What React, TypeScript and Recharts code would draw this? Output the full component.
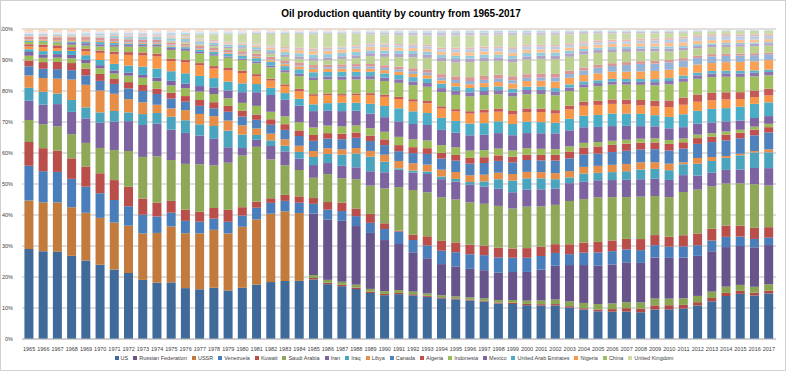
import React from 'react';
import { BarChart, Bar, XAxis, YAxis, CartesianGrid } from 'recharts';

const YEARS = [
  1965, 1966, 1967, 1968, 1969, 1970, 1971, 1972, 1973, 1974,
  1975, 1976, 1977, 1978, 1979, 1980, 1981, 1982, 1983, 1984,
  1985, 1986, 1987, 1988, 1989, 1990, 1991, 1992, 1993, 1994,
  1995, 1996, 1997, 1998, 1999, 2000, 2001, 2002, 2003, 2004,
  2005, 2006, 2007, 2008, 2009, 2010, 2011, 2012, 2013, 2014,
  2015, 2016, 2017,
];

// production, thousand barrels per day (rows: 1965-74, 75-84, 85-94, 95-04, 05-14, 15-17)
const US = [
  9014, 9579, 10219, 10600, 10828, 11297, 11156, 11185, 10946, 10461,
  10008, 9736, 9863, 10274, 10136, 10170, 10181, 10199, 10247, 10509,
  10580, 10231, 9944, 9765, 9159, 8914, 9076, 8868, 8583, 8389,
  8322, 8295, 8269, 8011, 7731, 7733, 7669, 7626, 7400, 7228,
  6895, 6841, 6847, 6734, 7270, 7555, 7868, 8894, 10071, 11779,
  12757, 12354, 13057,
];
const AZERBAIJAN = [
  0, 0, 0, 0, 0, 0, 0, 0, 0, 0,
  0, 0, 0, 0, 0, 0, 0, 0, 0, 0,
  265, 260, 268, 272, 273, 259, 243, 228, 211, 193,
  184, 182, 180, 229, 278, 282, 301, 311, 313, 315,
  452, 654, 869, 915, 1033, 1037, 934, 877, 877, 849,
  841, 826, 795,
];
const KAZAKHSTAN = [
  0, 0, 0, 0, 0, 0, 0, 0, 0, 0,
  0, 0, 0, 0, 0, 0, 0, 0, 0, 0,
  517, 540, 561, 570, 550, 571, 571, 529, 475, 430,
  434, 474, 536, 537, 631, 744, 836, 1018, 1111, 1297,
  1356, 1426, 1484, 1554, 1688, 1676, 1684, 1664, 1720, 1701,
  1695, 1655, 1835,
];
const RUSSIA = [
  0, 0, 0, 0, 0, 0, 0, 0, 0, 0,
  0, 0, 0, 0, 0, 0, 0, 0, 0, 0,
  10905, 11266, 11484, 11445, 11145, 10405, 9326, 7990, 7173, 6419,
  6288, 6114, 6227, 6169, 6178, 6583, 7056, 7698, 8544, 9287,
  9552, 9769, 9978, 9950, 10139, 10366, 10510, 10643, 10777, 10838,
  10981, 11227, 11257,
];
const USSR = [
  4860, 5316, 5762, 6190, 6581, 7127, 7556, 8010, 8600, 9216,
  9901, 10502, 11086, 11612, 11908, 12117, 12195, 12228, 12298, 12254,
  0, 0, 0, 0, 0, 0, 0, 0, 0, 0,
  0, 0, 0, 0, 0, 0, 0, 0, 0, 0,
  0, 0, 0, 0, 0, 0, 0, 0, 0, 0,
  0, 0, 0,
];
const VENEZUELA = [
  3503, 3401, 3560, 3620, 3602, 3754, 3615, 3299, 3455, 3060,
  2421, 2371, 2313, 2242, 2425, 2228, 2166, 1950, 1852, 1871,
  1744, 1829, 1839, 1940, 2009, 2244, 2501, 2499, 2592, 2752,
  2959, 3137, 3321, 3480, 3126, 3239, 3142, 2895, 2554, 3051,
  3307, 3336, 3230, 3222, 3033, 2838, 2880, 2804, 2859, 2804,
  2662, 2373, 2110,
];
const KUWAIT = [
  2371, 2505, 2500, 2613, 2773, 3036, 3197, 3283, 3020, 2546,
  2084, 2145, 1969, 2131, 2500, 1664, 1129, 824, 1064, 1163,
  1023, 1419, 1585, 1492, 1783, 1175, 185, 1058, 1881, 2025,
  2057, 2062, 2137, 2190, 2025, 2206, 2148, 1995, 2329, 2475,
  2618, 2690, 2636, 2782, 2498, 2536, 2880, 3126, 3129, 3101,
  3068, 3145, 3025,
];
const SAUDI = [
  2219, 2615, 2825, 3081, 3262, 3851, 4821, 6070, 7693, 8618,
  7216, 8762, 9419, 8554, 9841, 10270, 10256, 6961, 5225, 4757,
  3601, 5208, 4599, 5720, 5635, 7105, 8820, 9098, 8962, 8991,
  9014, 9101, 9221, 9409, 8853, 9491, 9209, 8928, 10164, 10638,
  11114, 10853, 10449, 10664, 9663, 10075, 11144, 11635, 11393, 11505,
  11986, 12406, 11951,
];
const IRAN = [
  1908, 2132, 2603, 2840, 3375, 3848, 4572, 5060, 5907, 6060,
  5387, 5924, 5707, 5302, 3218, 1479, 1321, 2397, 2455, 2051,
  2259, 2063, 2347, 2316, 2864, 3270, 3500, 3523, 3712, 3730,
  3744, 3759, 3776, 3855, 3603, 3855, 3892, 3709, 4183, 4248,
  4234, 4286, 4322, 4396, 4249, 4356, 4358, 3751, 3611, 3725,
  3897, 4602, 4982,
];
const IRAQ = [
  1323, 1398, 1237, 1522, 1523, 1566, 1711, 1478, 2023, 1974,
  2271, 2425, 2216, 2573, 3489, 2658, 897, 1012, 1005, 1209,
  1433, 1690, 2079, 2685, 2897, 2149, 305, 425, 512, 553,
  560, 603, 1166, 2150, 2610, 2614, 2523, 2116, 1344, 2030,
  1833, 1999, 2143, 2428, 2452, 2490, 2801, 3116, 3141, 3285,
  4031, 4423, 4520,
];
const LIBYA = [
  1220, 1501, 1742, 2602, 3109, 3318, 2761, 2239, 2175, 1521,
  1480, 1933, 2063, 1983, 2092, 1831, 1217, 1197, 1130, 1111,
  1059, 1069, 1003, 1071, 1154, 1424, 1483, 1476, 1402, 1406,
  1439, 1452, 1487, 1480, 1425, 1475, 1427, 1375, 1485, 1623,
  1745, 1815, 1820, 1820, 1652, 1658, 516, 1539, 1048, 518,
  437, 412, 865,
];
const CANADA = [
  920, 1012, 1106, 1194, 1306, 1473, 1582, 1833, 2114, 1993,
  1735, 1617, 1608, 1564, 1838, 1764, 1610, 1590, 1659, 1775,
  1812, 1807, 1910, 2001, 1968, 1965, 1977, 2066, 2183, 2276,
  2402, 2480, 2588, 2672, 2604, 2721, 2677, 2858, 3004, 3085,
  3041, 3208, 3290, 3207, 3202, 3332, 3515, 3740, 4000, 4271,
  4388, 4460, 4831,
];
const ALGERIA = [
  577, 726, 842, 904, 946, 1052, 785, 1062, 1097, 1009,
  1020, 1075, 1152, 1231, 1224, 1139, 1003, 991, 1003, 1012,
  1037, 1011, 1048, 1040, 1095, 1175, 1230, 1214, 1162, 1180,
  1202, 1242, 1277, 1246, 1202, 1242, 1262, 1309, 1611, 1677,
  1797, 1805, 1797, 1740, 1676, 1689, 1642, 1537, 1485, 1589,
  1558, 1577, 1540,
];
const INDONESIA = [
  486, 470, 505, 601, 742, 853, 892, 1081, 1338, 1375,
  1306, 1503, 1686, 1635, 1590, 1577, 1605, 1339, 1385, 1466,
  1328, 1410, 1368, 1366, 1451, 1539, 1669, 1579, 1588, 1589,
  1578, 1580, 1557, 1520, 1408, 1456, 1389, 1289, 1176, 1130,
  1096, 1018, 972, 1006, 994, 1003, 952, 918, 882, 852,
  838, 880, 949,
];
const MEXICO = [
  362, 370, 411, 439, 461, 487, 486, 506, 525, 653,
  806, 897, 1085, 1330, 1630, 2129, 2553, 3001, 2930, 3015,
  2912, 2754, 2879, 2880, 2914, 2977, 3126, 3120, 3132, 3142,
  3065, 3277, 3410, 3499, 3343, 3456, 3560, 3585, 3789, 3824,
  3760, 3689, 3479, 3165, 2978, 2959, 2940, 2911, 2875, 2785,
  2588, 2456, 2224,
];
const UAE = [
  282, 360, 382, 497, 627, 779, 1059, 1202, 1532, 1679,
  1696, 1953, 2014, 1868, 1866, 1745, 1529, 1286, 1177, 1229,
  1208, 1432, 1566, 1565, 1959, 2283, 2639, 2574, 2451, 2474,
  2480, 2517, 2562, 2653, 2511, 2620, 2551, 2390, 2695, 2847,
  2983, 3149, 3053, 3088, 2750, 2895, 3320, 3400, 3626, 3603,
  3898, 4038, 3935,
];
const NIGERIA = [
  274, 422, 322, 145, 541, 1084, 1531, 1816, 2056, 2260,
  1788, 2070, 2098, 1914, 2316, 2059, 1439, 1287, 1241, 1388,
  1499, 1467, 1342, 1450, 1716, 1870, 1890, 1975, 1980, 1931,
  1998, 2149, 2316, 2167, 2066, 2159, 2274, 2103, 2238, 2431,
  2499, 2420, 2305, 2113, 2211, 2523, 2460, 2412, 2279, 2389,
  2201, 1898, 1988,
];
const QATAR = [
  233, 291, 324, 341, 357, 363, 431, 482, 570, 518,
  438, 497, 445, 487, 508, 472, 415, 332, 295, 414,
  301, 337, 298, 359, 398, 434, 434, 495, 462, 450,
  461, 510, 676, 739, 755, 853, 835, 790, 879, 993,
  1028, 1110, 1197, 1378, 1345, 1676, 1834, 1931, 1998, 1960,
  1939, 1899, 1916,
];
const CHINA = [
  227, 291, 278, 304, 434, 616, 791, 909, 1090, 1315,
  1541, 1739, 1874, 2082, 2122, 2122, 2024, 2045, 2123, 2296,
  2505, 2621, 2690, 2739, 2757, 2774, 2835, 2845, 2890, 2939,
  2990, 3170, 3211, 3212, 3213, 3257, 3310, 3346, 3401, 3481,
  3637, 3705, 3737, 3814, 3805, 4077, 4074, 4155, 4216, 4246,
  4309, 3999, 3846,
];
const OMAN = [
  0, 0, 57, 241, 327, 332, 293, 282, 293, 290,
  342, 366, 339, 314, 295, 282, 328, 335, 388, 416,
  498, 553, 593, 620, 638, 685, 708, 743, 780, 817,
  851, 885, 906, 905, 911, 959, 961, 904, 824, 786,
  778, 742, 710, 757, 813, 865, 885, 918, 942, 943,
  981, 1004, 971,
];
const EGYPT = [
  126, 121, 124, 193, 238, 329, 301, 223, 170, 155,
  245, 337, 425, 489, 529, 595, 635, 675, 720, 829,
  893, 838, 923, 869, 870, 873, 886, 896, 913, 896,
  920, 922, 873, 857, 827, 781, 758, 751, 749, 721,
  696, 697, 710, 715, 730, 725, 714, 715, 710, 714,
  726, 691, 660,
];
const BRAZIL = [
  96, 117, 147, 163, 174, 167, 175, 171, 174, 182,
  177, 172, 166, 167, 171, 188, 220, 269, 339, 475,
  563, 594, 590, 574, 609, 650, 644, 645, 666, 693,
  718, 807, 870, 1003, 1133, 1268, 1337, 1499, 1555, 1542,
  1716, 1809, 1833, 1899, 2029, 2137, 2179, 2145, 2110, 2341,
  2525, 2591, 2734,
];
const ANGOLA = [
  13, 14, 11, 15, 50, 103, 115, 143, 162, 172,
  165, 101, 178, 128, 145, 150, 130, 128, 179, 204,
  231, 283, 356, 451, 452, 475, 499, 547, 504, 556,
  633, 709, 714, 735, 745, 746, 742, 905, 870, 1103,
  1405, 1421, 1684, 1901, 1804, 1863, 1726, 1784, 1799, 1712,
  1796, 1745, 1674,
];
const ARGENTINA = [
  276, 300, 327, 359, 370, 399, 432, 443, 432, 422,
  406, 405, 437, 461, 489, 508, 513, 506, 497, 493,
  480, 463, 445, 482, 495, 517, 536, 605, 657, 719,
  759, 822, 875, 890, 847, 819, 830, 818, 806, 754,
  725, 716, 699, 682, 676, 652, 599, 594, 576, 564,
  564, 552, 514,
];
const NORWAY = [
  0, 0, 0, 0, 0, 0, 6, 33, 32, 35,
  190, 279, 280, 356, 403, 528, 501, 520, 614, 697,
  788, 871, 1022, 1158, 1555, 1716, 1923, 2229, 2375, 2693,
  2903, 3232, 3280, 3138, 3139, 3346, 3418, 3333, 3264, 3189,
  2969, 2779, 2551, 2466, 2349, 2136, 2040, 1917, 1838, 1889,
  1948, 1995, 1969,
];
const MALAYSIA = [
  10, 12, 12, 11, 18, 18, 72, 93, 93, 80,
  98, 167, 186, 219, 285, 283, 261, 306, 378, 454,
  450, 508, 495, 559, 597, 639, 671, 675, 659, 659,
  747, 727, 735, 733, 736, 735, 720, 758, 784, 793,
  757, 733, 740, 745, 701, 717, 637, 662, 621, 665,
  699, 703, 693,
];
const AUSTRALIA = [
  7, 7, 20, 40, 44, 180, 317, 329, 394, 406,
  440, 439, 440, 459, 469, 423, 430, 407, 463, 560,
  643, 609, 640, 632, 571, 650, 616, 589, 588, 613,
  637, 656, 668, 644, 628, 809, 733, 730, 626, 541,
  546, 537, 560, 547, 513, 552, 477, 470, 395, 420,
  361, 339, 322,
];
const INDIA = [
  63, 92, 113, 121, 135, 140, 146, 153, 154, 158,
  174, 177, 206, 231, 256, 193, 315, 408, 520, 590,
  630, 650, 627, 662, 710, 713, 662, 610, 577, 667,
  769, 740, 754, 736, 734, 726, 727, 753, 756, 773,
  738, 762, 769, 768, 756, 882, 916, 906, 906, 887,
  876, 856, 864,
];
const COLOMBIA = [
  203, 197, 192, 177, 212, 226, 218, 200, 186, 170,
  160, 149, 140, 131, 125, 126, 134, 143, 155, 169,
  179, 306, 388, 378, 404, 440, 426, 439, 461, 455,
  591, 626, 660, 755, 838, 711, 627, 601, 564, 551,
  554, 559, 561, 616, 685, 801, 929, 970, 1004, 990,
  1006, 924, 854,
];
const ECUADOR = [
  8, 7, 6, 5, 4, 4, 4, 78, 209, 177,
  161, 188, 183, 202, 216, 204, 211, 211, 237, 256,
  281, 293, 173, 306, 285, 292, 300, 329, 352, 384,
  395, 396, 388, 385, 383, 409, 416, 401, 427, 535,
  541, 545, 520, 514, 495, 488, 509, 505, 527, 557,
  543, 549, 531,
];
const UK = [
  2, 2, 2, 2, 2, 3, 4, 5, 6, 5,
  32, 245, 768, 1082, 1568, 1622, 1811, 2065, 2291, 2480,
  2530, 2539, 2406, 2232, 1802, 1820, 1797, 1825, 1915, 2469,
  2489, 2568, 2518, 2616, 2684, 2275, 2282, 2292, 2093, 1845,
  1649, 1490, 1498, 1391, 1328, 1233, 1019, 864, 801, 801,
  935, 970, 999,
];
const SYRIA = [
  0, 0, 0, 20, 50, 85, 105, 120, 108, 125,
  190, 200, 180, 175, 170, 165, 170, 165, 165, 170,
  180, 200, 250, 270, 340, 388, 480, 530, 565, 580,
  590, 583, 567, 553, 537, 548, 581, 548, 527, 495,
  448, 443, 415, 406, 401, 385, 353, 171, 59, 33,
  27, 25, 24,
];
const GABON = [
  25, 29, 69, 92, 100, 109, 115, 126, 153, 203,
  225, 223, 222, 209, 203, 175, 151, 155, 155, 157,
  172, 169, 157, 162, 216, 274, 298, 298, 310, 343,
  365, 369, 370, 337, 340, 327, 301, 295, 240, 235,
  234, 235, 230, 235, 241, 246, 254, 245, 236, 236,
  233, 221, 210,
];
const BRUNEI = [
  80, 90, 100, 110, 122, 138, 128, 177, 231, 194,
  178, 202, 211, 219, 237, 255, 180, 168, 169, 167,
  166, 159, 150, 152, 156, 150, 163, 180, 176, 175,
  175, 173, 170, 163, 182, 193, 203, 210, 214, 210,
  206, 221, 194, 175, 168, 172, 165, 159, 135, 126,
  127, 121, 112,
];
const TRINIDAD = [
  136, 154, 183, 190, 159, 142, 131, 141, 168, 188,
  218, 214, 229, 231, 214, 212, 190, 176, 160, 168,
  177, 167, 155, 150, 150, 150, 144, 136, 130, 140,
  139, 141, 135, 134, 141, 138, 135, 155, 164, 152,
  171, 174, 154, 149, 151, 145, 136, 118, 116, 115,
  109, 96, 88,
];
const ROMANIA = [
  254, 264, 270, 274, 281, 282, 284, 284, 287, 292,
  300, 312, 296, 280, 248, 236, 233, 233, 234, 237,
  212, 200, 195, 189, 182, 159, 140, 137, 136, 134,
  135, 132, 129, 127, 125, 126, 125, 123, 118, 111,
  103, 97, 96, 94, 89, 86, 84, 83, 83, 82,
  81, 77, 74,
];

// stacking order, bottom to top
const SERIES = [
  { name: 'US', data: US, color: '#3F6A99' },
  { name: 'Azerbaijan', data: AZERBAIJAN, color: '#B04A47' },
  { name: 'Kazakhstan', data: KAZAKHSTAN, color: '#8AA551' },
  { name: 'Russian Federation', data: RUSSIA, color: '#67548A' },
  { name: 'USSR', data: USSR, color: '#C27B3C' },
  { name: 'Venezuela', data: VENEZUELA, color: '#4A7EBB' },
  { name: 'Kuwait', data: KUWAIT, color: '#B94E4B' },
  { name: 'Saudi Arabia', data: SAUDI, color: '#8EA857' },
  { name: 'Iran', data: IRAN, color: '#7D63A0' },
  { name: 'Iraq', data: IRAQ, color: '#4AA4BE' },
  { name: 'Libya', data: LIBYA, color: '#E68D48' },
  { name: 'Canada', data: CANADA, color: '#4F81BD' },
  { name: 'Algeria', data: ALGERIA, color: '#C0504D' },
  { name: 'Indonesia', data: INDONESIA, color: '#9BBB59' },
  { name: 'Mexico', data: MEXICO, color: '#8064A2' },
  { name: 'United Arab Emirates', data: UAE, color: '#4BACC6' },
  { name: 'Nigeria', data: NIGERIA, color: '#F79646' },
  { name: 'Qatar', data: QATAR, color: '#C55A57' },
  { name: 'China', data: CHINA, color: '#9FBE5E' },
  { name: 'Oman', data: OMAN, color: '#8E74AE' },
  { name: 'Egypt', data: EGYPT, color: '#59B4CB' },
  { name: 'Brazil', data: BRAZIL, color: '#F9A155' },
  { name: 'Angola', data: ANGOLA, color: '#95B3D7' },
  { name: 'Argentina', data: ARGENTINA, color: '#D99694' },
  { name: 'Norway', data: NORWAY, color: '#BBD08E' },
  { name: 'Malaysia', data: MALAYSIA, color: '#B3A2C7' },
  { name: 'Australia', data: AUSTRALIA, color: '#93CDDD' },
  { name: 'India', data: INDIA, color: '#FAC090' },
  { name: 'Colombia', data: COLOMBIA, color: '#B9CDE5' },
  { name: 'Ecuador', data: ECUADOR, color: '#E6B9B8' },
  { name: 'United Kingdom', data: UK, color: '#C9DAA6' },
  { name: 'Syria', data: SYRIA, color: '#CCC1DA' },
  { name: 'Gabon', data: GABON, color: '#B7DEE8' },
  { name: 'Brunei', data: BRUNEI, color: '#DCE6F2' },
  { name: 'Trinidad & Tobago', data: TRINIDAD, color: '#F2DCDB' },
  { name: 'Romania', data: ROMANIA, color: '#FCD5B5' },
];

// the legend only has room for these
const LEGEND = [
  'US', 'Russian Federation', 'USSR', 'Venezuela', 'Kuwait', 'Saudi Arabia',
  'Iran', 'Iraq', 'Libya', 'Canada', 'Algeria', 'Indonesia', 'Mexico',
  'United Arab Emirates', 'Nigeria', 'China', 'United Kingdom',
];

const PCT_TICKS = [0, 0.1, 0.2, 0.3, 0.4, 0.5, 0.6, 0.7, 0.8, 0.9, 1];

const rows = YEARS.map((year, i) => {
  const row: Record<string, number | string> = { year: String(year) };
  SERIES.forEach((s) => {
    row[s.name] = s.data[i];
  });
  return row;
});

const FONT = "'Liberation Sans', Arial, sans-serif";
const tickStyle = { fontSize: 5.5, fill: '#404040', fontFamily: FONT };

export default function App() {
  return (
    <div
      style={{
        position: 'absolute',
        left: 0,
        top: 0,
        width: 786,
        height: 371,
        boxSizing: 'border-box',
        border: '1px solid #D0D0D0',
        background: '#fff',
        fontFamily: FONT,
        overflow: 'hidden',
      }}
    >
      <div
        style={{
          position: 'absolute',
          top: 7,
          left: 0,
          width: 800,
          textAlign: 'center',
          fontSize: 10,
          fontWeight: 'bold',
          color: '#000',
        }}
      >
        Oil production quantity by country from 1965-2017
      </div>
      <div style={{ position: 'absolute', left: -1, top: -1 }}>
        <BarChart
          width={786}
          height={371}
          data={rows}
          stackOffset="expand"
          barCategoryGap="17%"
          margin={{ top: 29, right: 10, bottom: 20, left: 0 }}
        >
          <CartesianGrid vertical={false} stroke="#BFBFBF" strokeWidth={1} />
          <XAxis
            dataKey="year"
            interval={0}
            tick={tickStyle}
            tickLine={false}
            axisLine={{ stroke: '#BFBFBF' }}
            height={12}
            tickMargin={2}
          />
          <YAxis
            width={22}
            ticks={PCT_TICKS}
            domain={[0, 1]}
            tick={tickStyle}
            tickLine={false}
            axisLine={false}
            tickMargin={3}
            tickFormatter={(v: number) => `${Math.round(v * 100)}%`}
          />
          {SERIES.map((s) => (
            <Bar
              key={s.name}
              dataKey={s.name}
              stackId="oil"
              fill={s.color}
              isAnimationActive={false}
            />
          ))}
        </BarChart>
      </div>
      <div
        style={{
          position: 'absolute',
          top: 354,
          left: 0,
          width: 786,
          display: 'flex',
          justifyContent: 'center',
          gap: 5,
          fontSize: 5.5,
          color: '#404040',
          whiteSpace: 'nowrap',
        }}
      >
        {LEGEND.map((name) => {
          const s = SERIES.find((x) => x.name === name)!;
          return (
            <span key={name} style={{ display: 'flex', alignItems: 'center' }}>
              <span
                style={{
                  display: 'inline-block',
                  width: 4,
                  height: 4,
                  background: s.color,
                  marginRight: 2,
                }}
              />
              {name}
            </span>
          );
        })}
      </div>
    </div>
  );
}
